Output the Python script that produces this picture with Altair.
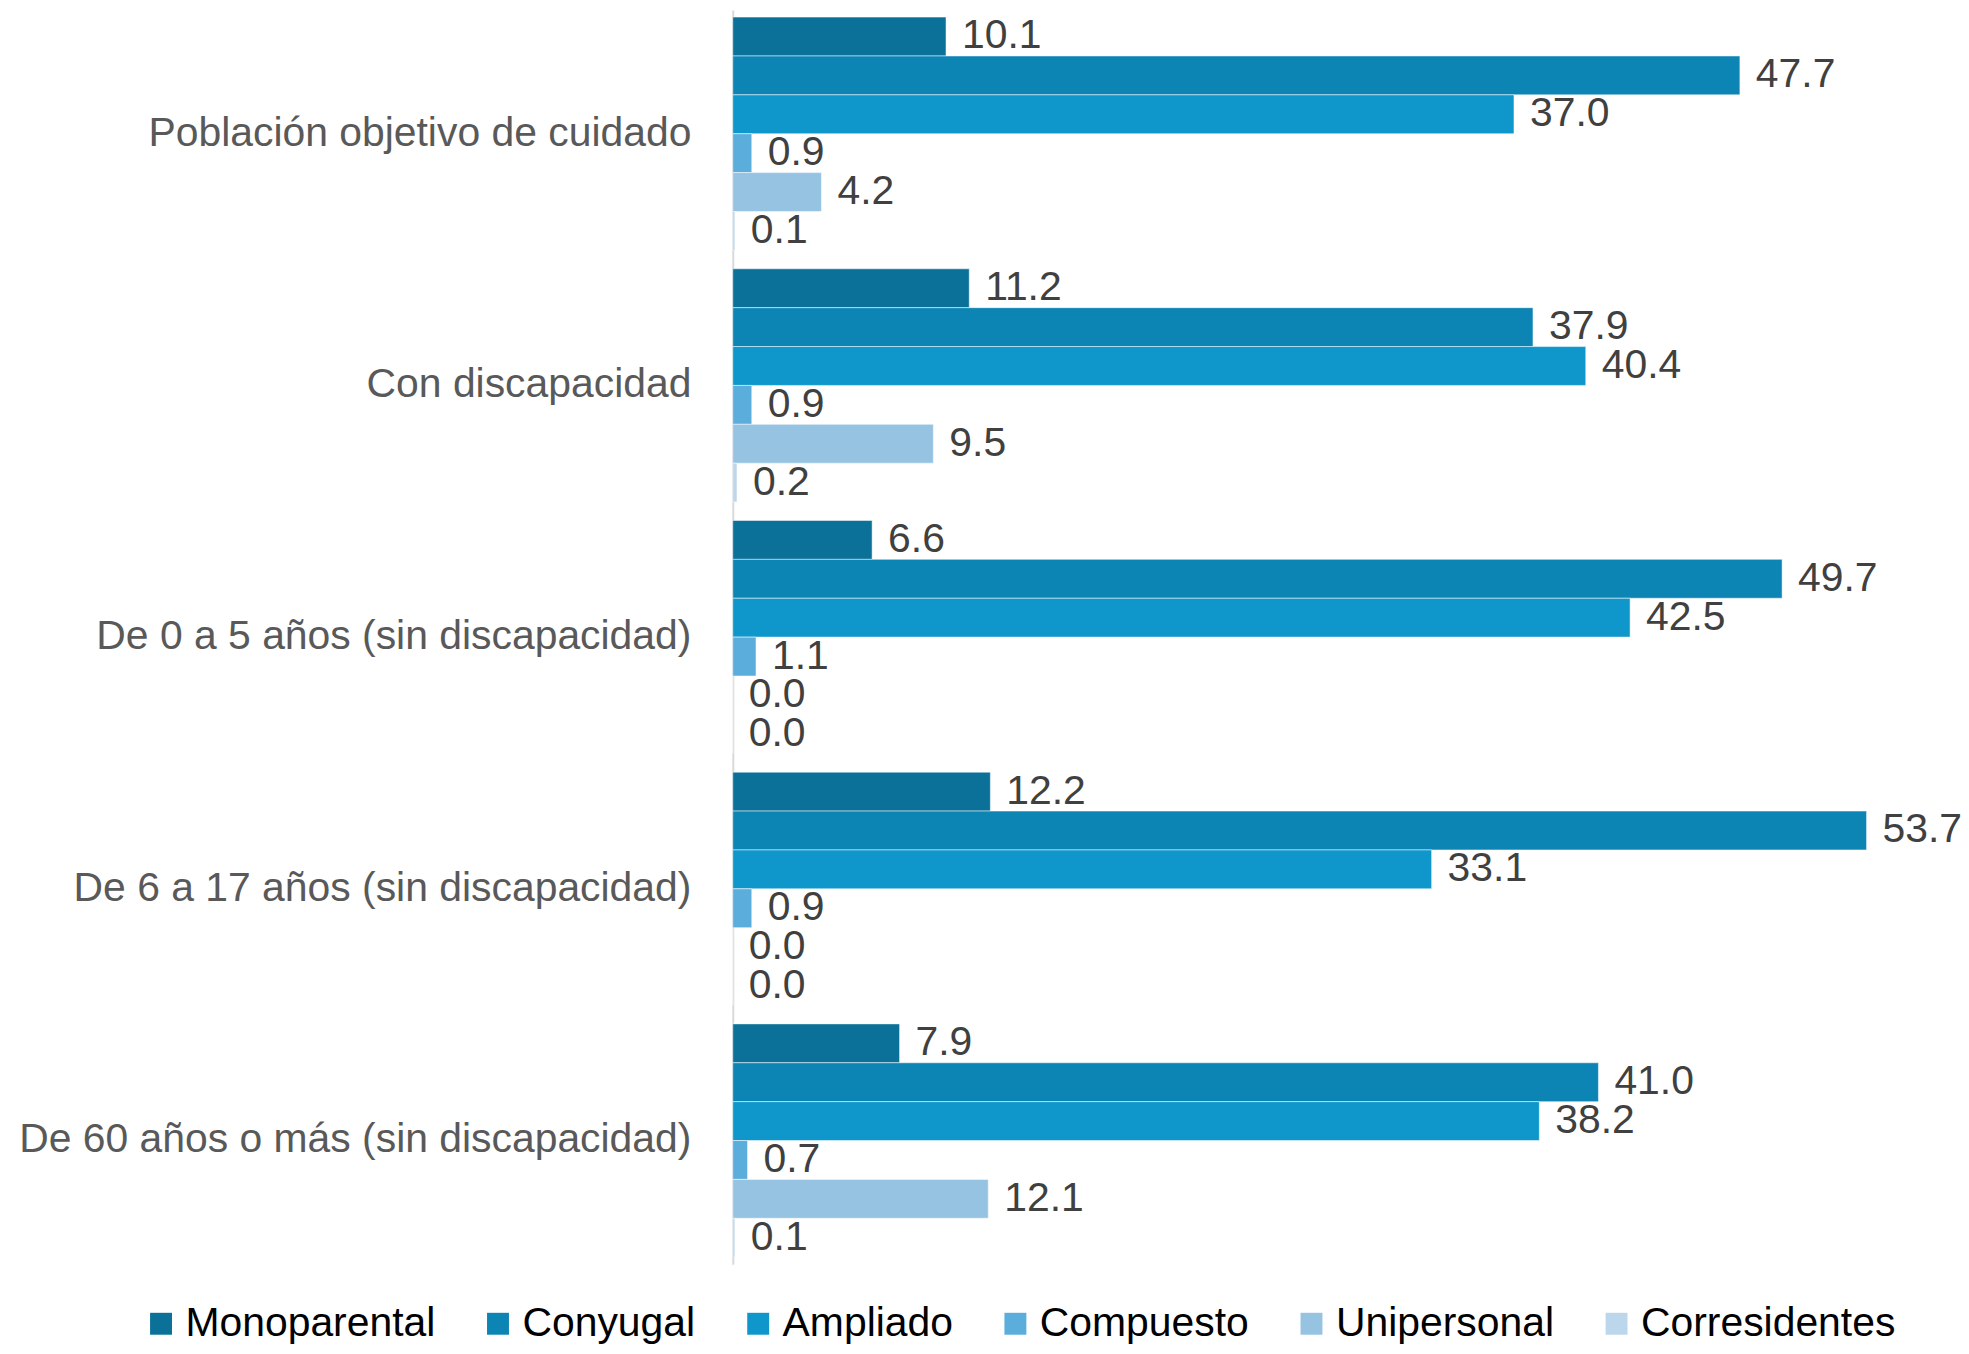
import altair as alt
import pandas as pd

categories = [
    "Población objetivo de cuidado",
    "Con discapacidad",
    "De 0 a 5 años (sin discapacidad)",
    "De 6 a 17 años (sin discapacidad)",
    "De 60 años o más (sin discapacidad)",
]
series = ["Monoparental", "Conyugal", "Ampliado", "Compuesto", "Unipersonal", "Corresidentes"]
colors = ["#0B7199", "#0D85B4", "#0F97CC", "#5BAEDB", "#97C3E3", "#BCD7EC"]

monoparental = [10.1, 11.2, 6.6, 12.2, 7.9]
conyugal = [47.7, 37.9, 49.7, 53.7, 41.0]
ampliado = [37.0, 40.4, 42.5, 33.1, 38.2]
compuesto = [0.9, 0.9, 1.1, 0.9, 0.7]
unipersonal = [4.2, 9.5, 0.0, 0.0, 12.1]
corresidentes = [0.1, 0.2, 0.0, 0.0, 0.1]

values = [monoparental, conyugal, ampliado, compuesto, unipersonal, corresidentes]
rows = []
for si, s in enumerate(series):
    for ci, c in enumerate(categories):
        rows.append({"cat": c, "serie": s, "order": si, "val": values[si][ci]})
df = pd.DataFrame(rows)

FONT = "Liberation Sans"

y_enc = alt.Y(
    "cat:N",
    sort=categories,
    scale=alt.Scale(paddingInner=0.0733, paddingOuter=0.028),
    axis=alt.Axis(
        title=None,
        ticks=False,
        domain=True,
        domainColor="#D9D9D9",
        domainWidth=2,
        labelFont=FONT,
        labelFontSize=41,
        labelColor="#595959",
        labelPadding=42,
        labelLimit=900,
    ),
)
yoff = alt.YOffset("serie:N", sort=series, scale=alt.Scale(paddingInner=0, paddingOuter=0))
x_enc = alt.X("val:Q", scale=alt.Scale(domain=[0, 57.7], nice=False, zero=True), axis=None)

base = alt.Chart(df)

bars = base.mark_bar(stroke="white", strokeWidth=1, strokeOpacity=0.5).encode(
    y=y_enc,
    yOffset=yoff,
    x=x_enc,
    color=alt.Color(
        "serie:N",
        sort=series,
        scale=alt.Scale(domain=series, range=colors),
        legend=alt.Legend(
            title=None,
            orient="none",
            direction="horizontal",
            columns=6,
            legendX=-594,
            legendY=1297,
            symbolType="square",
            symbolSize=484,
            symbolStrokeWidth=0,
            labelFont=FONT,
            labelFontSize=41,
            labelColor="#000000",
            labelOffset=4,
            columnPadding=42,
            labelLimit=600,
            padding=0,
        ),
    ),
)

labels = base.mark_text(
    align="left", baseline="middle", dx=16, font=FONT, fontSize=41, color="#404040"
).encode(
    y=alt.Y("cat:N", sort=categories),
    yOffset=yoff,
    x=x_enc,
    text=alt.Text("val:Q", format=".1f"),
)

chart = (
    alt.layer(bars, labels)
    .properties(
        width=1222,
        height=1258,
        background="white",
        autosize=alt.AutoSizeParams(type="none"),
        padding={"left": 727, "top": 0, "right": 10, "bottom": 80},
    )
    .configure_view(stroke="transparent", strokeWidth=0)
)

chart.save("out.html", embed_options={"renderer": "svg", "actions": False})
